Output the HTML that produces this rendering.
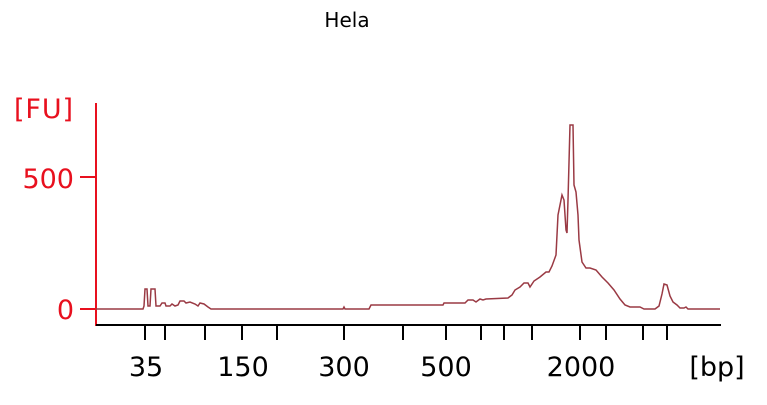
<!DOCTYPE html>
<html><head><style>
html,body{margin:0;padding:0;background:#fff;width:767px;height:405px;overflow:hidden}
svg{display:block}
</style></head><body>
<svg width="767" height="405" viewBox="0 0 767 405" xmlns="http://www.w3.org/2000/svg">
<text x="347" y="27" font-family="DejaVu Sans, sans-serif" font-size="20" fill="#000" text-anchor="middle">Hela</text>
<text x="14" y="118" font-family="DejaVu Sans, sans-serif" font-size="27" fill="#e8101e" textLength="59">[FU]</text>
<text x="74" y="188" font-family="DejaVu Sans, sans-serif" font-size="27" fill="#e8101e" text-anchor="end">500</text>
<text x="74" y="319" font-family="DejaVu Sans, sans-serif" font-size="27" fill="#e8101e" text-anchor="end">0</text>
<line x1="96" y1="103" x2="96" y2="326" stroke="#e8101e" stroke-width="2"/>
<line x1="80" y1="177" x2="96" y2="177" stroke="#e8101e" stroke-width="2"/>
<line x1="80" y1="309" x2="96" y2="309" stroke="#e8101e" stroke-width="2"/>
<line x1="96" y1="325" x2="721" y2="325" stroke="#000" stroke-width="2"/>
<g stroke="#000" stroke-width="2">
<line x1="145" y1="326" x2="145" y2="340"/><line x1="165" y1="326" x2="165" y2="340"/>
<line x1="205" y1="326" x2="205" y2="340"/><line x1="242" y1="326" x2="242" y2="340"/>
<line x1="277" y1="326" x2="277" y2="340"/><line x1="344" y1="326" x2="344" y2="340"/>
<line x1="403" y1="326" x2="403" y2="340"/><line x1="446" y1="326" x2="446" y2="340"/>
<line x1="481" y1="326" x2="481" y2="340"/><line x1="504" y1="326" x2="504" y2="340"/>
<line x1="532" y1="326" x2="532" y2="340"/><line x1="580" y1="326" x2="580" y2="340"/>
<line x1="606" y1="326" x2="606" y2="340"/><line x1="643" y1="326" x2="643" y2="340"/>
<line x1="667" y1="326" x2="667" y2="340"/>
</g>
<g font-family="DejaVu Sans, sans-serif" font-size="27" fill="#000" text-anchor="middle">
<text x="146" y="376">35</text><text x="243" y="376">150</text><text x="344" y="376">300</text>
<text x="446" y="376">500</text><text x="581" y="376">2000</text><text x="717" y="376">[bp]</text>
</g>
<polyline fill="none" stroke="#9a3a44" stroke-width="1.5" points="
96,309 143,309 144,306 145,289 147,289 148,306 150,306 151,289 155,289 156,306 160,306 162,303 165,303 166,306 170,306 172,304 175,306 178,305 180,301 184,301 186,303 190,302 195,304 198,306 200,303 204,304 208,307 211,309
343,309 344,307 345,309 369,309 371,305 443,305 444,303 465,303 468,300 473,300 476,302 480,299 483,300 486,299 508,298 512,295 515,290 520,287 524,283 528,283 530,287 534,281 540,277 546,272 549,272 552,266 556,255 558,215 562,195 564,200 566,230 567,233 568,200 570,125 572,125 573,125 574,185 576,192 578,215 579,240 582,262 586,268 590,268 596,270 602,277 608,283 614,290 620,299 625,305 630,307 640,307 644,309 655,309 659,306 662,294 664,284 667,285 670,296 673,302 677,305 680,308 684,308 686,307 688,309 720,309"/>
</svg>
</body></html>
